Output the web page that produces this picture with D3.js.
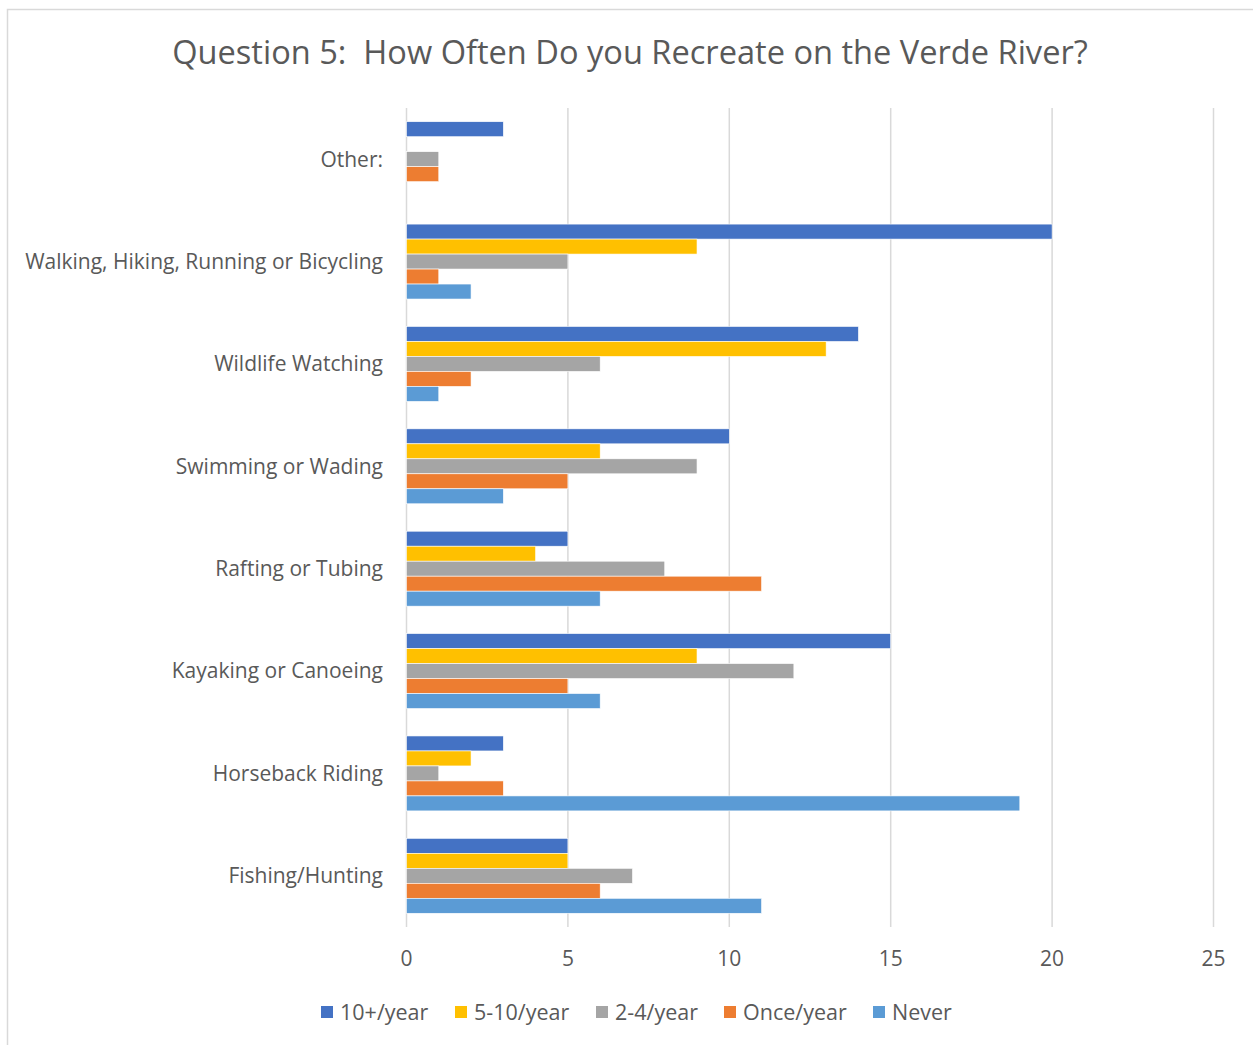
<!DOCTYPE html>
<html>
<head>
<meta charset="utf-8">
<script src="https://cdn.jsdelivr.net/npm/d3@7"></script>
<style>
  body { margin: 0; background: #fff; }
  svg { display: block; font-family: "Open Sans", sans-serif; }
</style>
</head>
<body>
<div id="chart"></div>
<script>
// categories, top to bottom
const categories = [
    "Other:",
    "Walking, Hiking, Running or Bicycling",
    "Wildlife Watching",
    "Swimming or Wading",
    "Rafting or Tubing",
    "Kayaking or Canoeing",
    "Horseback Riding",
    "Fishing/Hunting"
];

const seriesNames = ["10+/year", "5-10/year", "2-4/year", "Once/year", "Never"];
const seriesColors = ["#4472C4", "#FFC000", "#A5A5A5", "#ED7D31", "#5B9BD5"];

// one array per series, same order as categories
const tenPlus   = [3, 20, 14, 10, 5, 15, 3, 5];
const fiveToTen = [0, 9, 13, 6, 4, 9, 2, 5];
const twoToFour = [1, 5, 6, 9, 8, 12, 1, 7];
const oncePerYr = [1, 1, 2, 5, 11, 5, 3, 6];
const never     = [0, 2, 1, 3, 6, 6, 19, 11];

const xTicks = [0, 5, 10, 15, 20, 25];

const seriesValues = [tenPlus, fiveToTen, twoToFour, oncePerYr, never];

const width = 1253;
const height = 1045;
const margin = { top: 108, right: 40, bottom: 118, left: 406 };
const chartWidth = 1213 - margin.left;
const chartHeight = 927 - margin.top;

const svg = d3.select("#chart").append("svg")
    .attr("width", width)
    .attr("height", height);

// outer chart frame
svg.append("rect")
    .attr("x", 7.5).attr("y", 9.5)
    .attr("width", width + 10).attr("height", height + 10)
    .attr("fill", "#fff")
    .attr("stroke", "#d9d9d9")
    .attr("stroke-width", 1.5);

// title
svg.append("text")
    .attr("x", 630)
    .attr("y", 64)
    .attr("text-anchor", "middle")
    .attr("fill", "#595959")
    .attr("xml:space", "preserve")
    .style("font-size", "32.6px")
    .text("Question 5:  How Often Do you Recreate on the Verde River?");

const g = svg.append("g")
    .attr("transform", `translate(${margin.left},${margin.top})`);

// scales
const xScale = d3.scaleLinear()
    .domain([0, 25])
    .range([0, chartWidth]);

const yScale = d3.scaleBand()
    .domain(categories)
    .range([0, chartHeight])
    .paddingInner(0.268)
    .paddingOuter(0.134);

const ySub = d3.scaleBand()
    .domain(seriesNames)
    .range([0, yScale.bandwidth()]);

// grid lines
g.append("g")
    .attr("class", "grid")
    .call(d3.axisBottom(xScale)
        .tickValues(xTicks)
        .tickSize(chartHeight)
        .tickFormat("")
    )
    .call(s => s.select(".domain").remove())
    .call(s => s.selectAll("line").attr("stroke", "#d9d9d9").attr("stroke-width", 1.5));

// bars
const groups = g.selectAll(".cat")
    .data(categories)
    .join("g")
    .attr("class", "cat")
    .attr("transform", d => `translate(0,${yScale(d)})`);

groups.selectAll("rect")
    .data((c, i) => seriesNames.map((s, j) => ({ series: s, color: seriesColors[j], value: seriesValues[j][i] })))
    .join("rect")
    .filter(d => d.value > 0)
    .attr("x", xScale(0) + 0.5)
    .attr("y", d => ySub(d.series))
    .attr("width", d => xScale(d.value) - xScale(0))
    .attr("height", ySub.bandwidth())
    .attr("fill", d => d.color)
    .attr("stroke", "#fff")
    .attr("stroke-width", 0.6);

// category labels
g.append("g")
    .selectAll("text")
    .data(categories)
    .join("text")
    .attr("x", -23)
    .attr("y", d => yScale(d) + yScale.bandwidth() / 2)
    .attr("dy", "0.35em")
    .attr("text-anchor", "end")
    .attr("fill", "#595959")
    .style("font-size", "21px")
    .text(d => d);

// x axis labels
const xAxisG = g.append("g")
    .attr("transform", `translate(0,${chartHeight})`)
    .call(d3.axisBottom(xScale).tickValues(xTicks).tickSize(0).tickPadding(24));
xAxisG.select(".domain").remove();
xAxisG.selectAll("text")
    .attr("fill", "#595959")
    .style("font-size", "21px")
    .style("font-family", "'Open Sans', sans-serif");

// legend
const legendX = [321, 455, 596, 724, 873];
const legend = svg.append("g");
seriesNames.forEach((s, i) => {
    const item = legend.append("g").attr("transform", `translate(${legendX[i]},1012)`);
    item.append("rect")
        .attr("x", 0).attr("y", -6)
        .attr("width", 12).attr("height", 12)
        .attr("fill", seriesColors[i]);
    item.append("text")
        .attr("x", 19)
        .attr("y", 0)
        .attr("dy", "0.35em")
        .attr("fill", "#595959")
        .style("font-size", "21.5px")
        .text(s);
});
</script>
</body>
</html>
